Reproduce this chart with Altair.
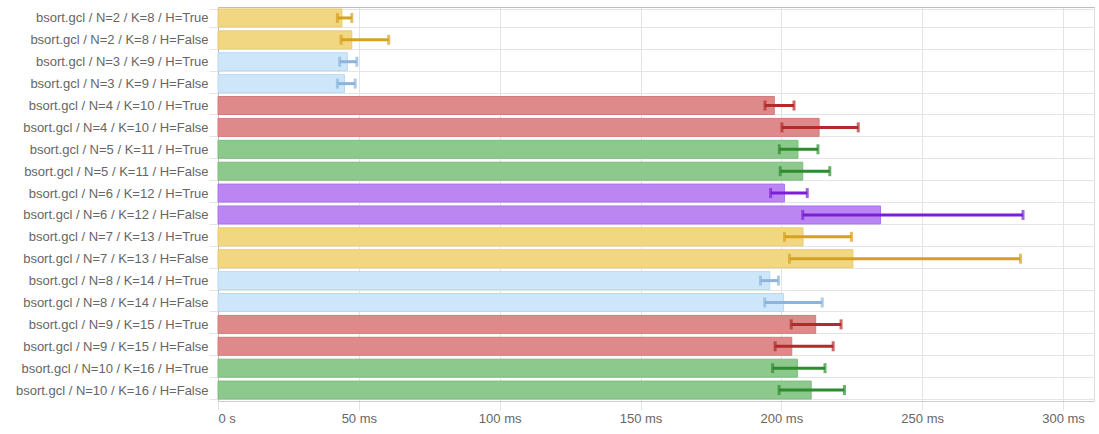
import altair as alt
import pandas as pd

labels = [
    "bsort.gcl / N=2 / K=8 / H=True",
    "bsort.gcl / N=2 / K=8 / H=False",
    "bsort.gcl / N=3 / K=9 / H=True",
    "bsort.gcl / N=3 / K=9 / H=False",
    "bsort.gcl / N=4 / K=10 / H=True",
    "bsort.gcl / N=4 / K=10 / H=False",
    "bsort.gcl / N=5 / K=11 / H=True",
    "bsort.gcl / N=5 / K=11 / H=False",
    "bsort.gcl / N=6 / K=12 / H=True",
    "bsort.gcl / N=6 / K=12 / H=False",
    "bsort.gcl / N=7 / K=13 / H=True",
    "bsort.gcl / N=7 / K=13 / H=False",
    "bsort.gcl / N=8 / K=14 / H=True",
    "bsort.gcl / N=8 / K=14 / H=False",
    "bsort.gcl / N=9 / K=15 / H=True",
    "bsort.gcl / N=9 / K=15 / H=False",
    "bsort.gcl / N=10 / K=16 / H=True",
    "bsort.gcl / N=10 / K=16 / H=False",
]
groups = ["yellow", "yellow", "blue", "blue", "red", "red", "green", "green",
          "purple", "purple", "yellow", "yellow", "blue", "blue", "red", "red",
          "green", "green"]
mean_ms = [44.0, 47.5, 45.9, 44.9, 197.5, 213.4, 205.9, 207.6, 201.1, 235.2,
           207.7, 225.4, 195.9, 200.8, 212.2, 203.7, 205.7, 210.6]
low_ms = [42.4, 43.7, 43.2, 42.4, 194.2, 200.2, 199.3, 199.6, 196.2, 207.6,
          201.1, 202.9, 192.6, 194.1, 203.5, 197.8, 196.9, 199.2]
high_ms = [47.5, 60.6, 49.3, 48.7, 204.5, 227.3, 213.0, 217.2, 209.2, 285.8,
           224.9, 284.9, 199.0, 214.5, 221.2, 218.4, 215.5, 222.4]
x_ticks = [0, 50, 100, 150, 200, 250, 300]

df = pd.DataFrame({"label": labels, "group": groups, "mean": mean_ms,
                   "lo": low_ms, "hi": high_ms})

grp_domain = ["yellow", "blue", "red", "green", "purple"]
fill_range = ["#f2d783", "#cde6f9", "#df8a8a", "#8dc88d", "#bb86f2"]
stroke_range = ["#e8ca70", "#b8d8f2", "#d57a7a", "#7cbd7c", "#ad72ee"]
err_range = ["#d4a21f", "#8db5db", "#b22a2a", "#2e8b2e", "#7a1fd6"]

LABEL_COLOR = "#666666"
GRID = "#e4e4e4"
FONT = "Liberation Sans"
FS = 13

yscale = alt.Scale(paddingInner=0.18, paddingOuter=0.09)
yaxis = alt.Axis(tickBand="extent", grid=True, gridColor=GRID,
                 tickColor=GRID, tickSize=9, labelPadding=1,
                 domainColor="#bdbdbd", labelColor=LABEL_COLOR,
                 labelFontSize=FS, labelFont=FONT, labelLimit=400)


def yenc():
    return alt.Y("label:N", sort=labels, title=None, scale=yscale, axis=yaxis)


xscale = alt.Scale(domain=[0, 311], nice=False)

bars = alt.Chart(df).mark_bar(strokeWidth=1).encode(
    x=alt.X("mean:Q", scale=xscale, title=None,
            axis=alt.Axis(values=x_ticks, grid=True, gridColor=GRID,
                          tickColor=GRID, tickSize=9, labelPadding=2,
                          domainColor="#cfcfcf", labelColor=LABEL_COLOR,
                          labelFontSize=FS, labelFont=FONT,
                          labelExpr="datum.value == 0 ? '0 s' : datum.value + ' ms'")),
    y=yenc(),
    fill=alt.Fill("group:N", scale=alt.Scale(domain=grp_domain, range=fill_range), legend=None),
    stroke=alt.Stroke("group:N", scale=alt.Scale(domain=grp_domain, range=stroke_range), legend=None),
)

errcolor = alt.Color("group:N", scale=alt.Scale(domain=grp_domain, range=err_range), legend=None)

rules = alt.Chart(df).mark_rule(strokeWidth=3).encode(
    x=alt.X("lo:Q", scale=xscale, title=None,
            axis=alt.Axis(orient="top", labels=False, ticks=False, grid=False,
                          domainColor="#bdbdbd")),
    x2="hi:Q",
    y=yenc(),
    color=errcolor,
)

cap_lo = alt.Chart(df).mark_tick(thickness=3, size=10, orient="vertical").encode(
    x=alt.X("lo:Q", scale=xscale, axis=None), y=yenc(), color=errcolor)
cap_hi = alt.Chart(df).mark_tick(thickness=3, size=10, orient="vertical").encode(
    x=alt.X("hi:Q", scale=xscale, axis=None), y=yenc(), color=errcolor)

chart = alt.layer(bars, rules, cap_lo, cap_hi).resolve_axis(
    x="independent"
).properties(
    width=876, height=394,
    padding={"left": 15, "top": 1, "right": 2, "bottom": 5},
).configure_view(stroke=None).configure(background="white")

chart.save("out.html", embed_options={"renderer": "svg", "actions": False})
